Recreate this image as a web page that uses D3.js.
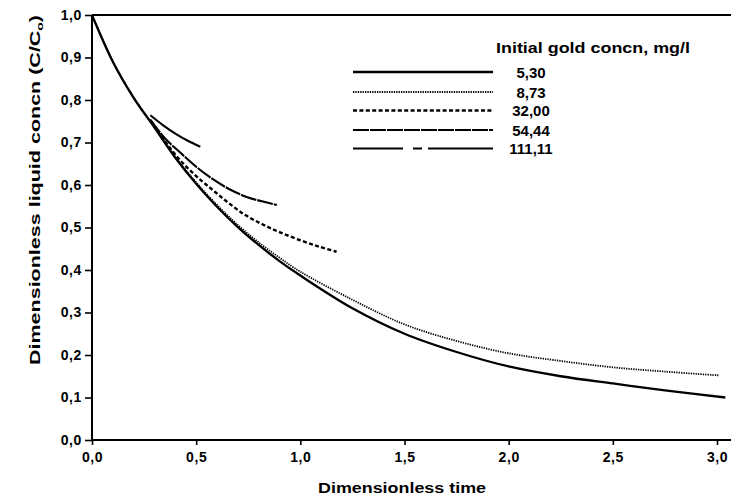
<!DOCTYPE html>
<html>
<head>
<meta charset="utf-8">
<script src="https://cdn.jsdelivr.net/npm/d3@7/dist/d3.min.js"></script>
<style>
  html, body { margin: 0; padding: 0; background: #fff; }
  svg { display: block; }
  text { font-family: "Liberation Sans", Arial, Helvetica, sans-serif; font-weight: bold; fill: #000; }
</style>
</head>
<body>
<svg id="chart" width="731" height="504"></svg>
<script>
// ---- data ----
const xTicks = [0, 0.5, 1.0, 1.5, 2.0, 2.5, 3.0];
const xTickLabels = ["0,0", "0,5", "1,0", "1,5", "2,0", "2,5", "3,0"];
const yTicks = [0, 0.1, 0.2, 0.3, 0.4, 0.5, 0.6, 0.7, 0.8, 0.9, 1.0];
const yTickLabels = ["0,0", "0,1", "0,2", "0,3", "0,4", "0,5", "0,6", "0,7", "0,8", "0,9", "1,0"];

const seriesNames = ["5,30", "8,73", "32,00", "54,44", "111,11"];

const s530 = [
  [0, 1.0], [0.1, 0.89], [0.2, 0.805], [0.3, 0.735], [0.4, 0.664], [0.5, 0.603],
  [0.6, 0.549], [0.7, 0.501], [0.8, 0.459], [0.9, 0.421], [1.0, 0.387], [1.25, 0.31],
  [1.5, 0.25], [1.75, 0.207], [2.0, 0.173], [2.25, 0.15], [2.5, 0.133], [2.75, 0.117], [3.04, 0.10]
];
const s873 = [
  [0, 1.0], [0.1, 0.891], [0.2, 0.806], [0.3, 0.737], [0.4, 0.666], [0.5, 0.606],
  [0.6, 0.553], [0.7, 0.506], [0.8, 0.465], [0.9, 0.429], [1.0, 0.396], [1.25, 0.33],
  [1.5, 0.272], [1.75, 0.233], [2.0, 0.204], [2.25, 0.186], [2.5, 0.171], [2.75, 0.161], [3.01, 0.152]
];
const s3200 = [
  [0.28, 0.752], [0.35, 0.703], [0.42, 0.66], [0.5, 0.621], [0.58, 0.588], [0.66, 0.556],
  [0.74, 0.528], [0.82, 0.507], [0.9, 0.489], [1.0, 0.47], [1.09, 0.455], [1.174, 0.443]
];
const s5444 = [
  [0.28, 0.754], [0.35, 0.71], [0.422, 0.677], [0.5, 0.643], [0.582, 0.613],
  [0.66, 0.59], [0.742, 0.572], [0.82, 0.561], [0.887, 0.553]
];
const s11111 = [
  [0.28, 0.764], [0.34, 0.741], [0.40, 0.721], [0.46, 0.704], [0.52, 0.69]
];
const seriesData = [s530, s873, s3200, s5444, s11111];

// ---- styles ----
const lineStyles = [
  { w: 2.3, dash: null,        legendDash: null },
  { w: 1.8, dash: "1.3,1.1",   legendDash: "1.3,1.1" },
  { w: 2.4, dash: "4,2.4",     legendDash: "4,2.4" },
  { w: 2.1, dash: "16,1",      legendDash: "16,1" },
  { w: 2.1, dash: null,        legendDash: "50,10,9,6,70" }
];

const svg = d3.select("#chart");
const x = d3.scaleLinear().domain([0, 3]).range([92, 717]);
const y = d3.scaleLinear().domain([0, 1]).range([440, 15]);

// top frame line and bottom axis line extending to the right edge
svg.append("line").attr("x1", x(0)).attr("x2", 731).attr("y1", y(1)).attr("y2", y(1))
  .attr("stroke", "#000").attr("stroke-width", 2);
svg.append("line").attr("x1", x(0)).attr("x2", 731).attr("y1", y(0)).attr("y2", y(0))
  .attr("stroke", "#000").attr("stroke-width", 2);

const yAxis = d3.axisLeft(y).tickValues(yTicks).tickSize(7).tickPadding(3)
  .tickFormat((d, i) => yTickLabels[i]);
const gy = svg.append("g").attr("transform", `translate(${x(0)},0)`).call(yAxis);
gy.select(".domain").attr("stroke-width", 2).attr("d", `M0,${y(1)}V${y(0)}`);
gy.selectAll(".tick line").attr("stroke-width", 1.6);
gy.selectAll(".tick text").attr("font-size", 14).attr("font-family", "Liberation Sans, Arial, sans-serif")
  .attr("font-weight", "bold").attr("letter-spacing", "0.6");

const xAxis = d3.axisBottom(x).tickValues(xTicks).tickSize(5).tickPadding(7)
  .tickFormat((d, i) => xTickLabels[i]);
const gx = svg.append("g").attr("transform", `translate(0,${y(0)})`).call(xAxis);
gx.select(".domain").remove();
gx.selectAll(".tick line").attr("stroke-width", 1.6);
gx.selectAll(".tick text").attr("font-size", 14).attr("font-family", "Liberation Sans, Arial, sans-serif")
  .attr("font-weight", "bold").attr("letter-spacing", "0.6");

// curves
const line = d3.line().x(d => x(d[0])).y(d => y(d[1])).curve(d3.curveCatmullRom.alpha(0.5));
seriesData.forEach((data, i) => {
  const st = lineStyles[i];
  svg.append("path").datum(data).attr("d", line)
    .attr("fill", "none").attr("stroke", "#000").attr("stroke-width", st.w)
    .attr("stroke-dasharray", st.dash).attr("stroke-linecap", "butt");
});

// legend
svg.append("text").attr("x", 496).attr("y", 53).attr("font-size", 14)
  .attr("textLength", 194).attr("lengthAdjust", "spacingAndGlyphs")
  .text("Initial gold concn, mg/l");
const legendY = [72, 92, 110.5, 130, 148.5];
seriesNames.forEach((name, i) => {
  const st = lineStyles[i];
  svg.append("line").attr("x1", 353).attr("x2", 493)
    .attr("y1", legendY[i]).attr("y2", legendY[i])
    .attr("stroke", "#000").attr("stroke-width", st.w)
    .attr("stroke-dasharray", st.legendDash);
  svg.append("text").attr("x", 531).attr("y", legendY[i] + 5.5).attr("font-size", 15)
    .attr("text-anchor", "middle").text(name);
});

// axis titles
svg.append("text").attr("x", 402).attr("y", 493).attr("font-size", 14)
  .attr("text-anchor", "middle").attr("textLength", 168).attr("lengthAdjust", "spacingAndGlyphs")
  .text("Dimensionless time");

const yt = svg.append("text").attr("transform", "translate(40,190) rotate(-90)")
  .attr("font-size", 14).attr("text-anchor", "middle")
  .attr("textLength", 350).attr("lengthAdjust", "spacingAndGlyphs");
yt.append("tspan").text("Dimensionless liquid concn (C/C");
yt.append("tspan").attr("font-size", 9).attr("dy", 3).text("o");
yt.append("tspan").attr("dy", -3).text(")");
</script>
</body>
</html>
